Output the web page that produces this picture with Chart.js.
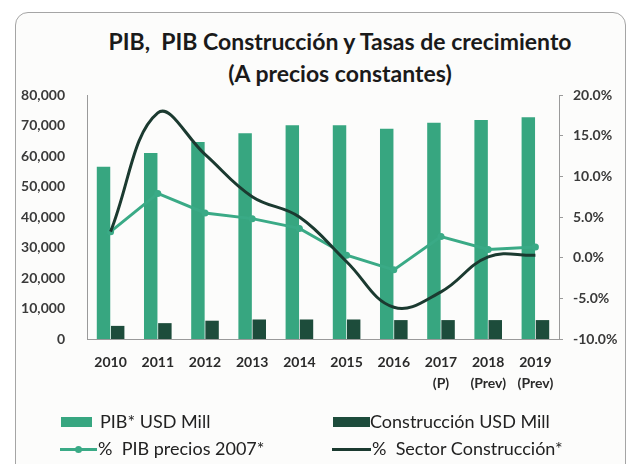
<!DOCTYPE html>
<html>
<head>
<meta charset="utf-8">
<script src="https://cdn.jsdelivr.net/npm/chart.js@4.4.1/dist/chart.umd.min.js"></script>
<style>
  html, body { margin: 0; padding: 0; background: #fff; }
  body { width: 630px; height: 464px; position: relative; overflow: hidden; font-family: Lato, "Open Sans", sans-serif; }
  #card {
    position: absolute; left: 15px; top: 12px; width: 611px; height: 470px;
    border: 1.5px solid #a5a5a5; border-radius: 13px; background: #fcfcfb; box-sizing: border-box;
  }
  #titulo {
    position: absolute; left: 40px; width: 600px; top: 25px; text-align: center;
    font-weight: bold; font-size: 23px; line-height: 32px; color: #1a1a1a; white-space: pre;
  }
  #chartBox { position: absolute; left: 0; top: 0; width: 630px; height: 464px; }
  .leyenda { position: absolute; font-size: 18px; color: #222; white-space: pre; line-height: 22px; }
  .sw { position: absolute; }
</style>
</head>
<body>
<div id="card"></div>
<div id="titulo">PIB,  PIB Construcción y Tasas de crecimiento
(A precios constantes)</div>
<div id="chartBox"><canvas id="myChart" width="630" height="464"></canvas></div>
<div id="legendBox"></div>

<script>
// Datos
const anios = ["2010", "2011", "2012", "2013", "2014", "2015", "2016", "2017", "2018", "2019"];
const subEtiquetas = ["", "", "", "", "", "", "", "(P)", "(Prev)", "(Prev)"];
const pibUsd = [56500, 61000, 64600, 67500, 70100, 70100, 68900, 70900, 71800, 72700];
const construccionUsd = [4300, 5200, 6000, 6400, 6400, 6400, 6200, 6200, 6200, 6200];
const pibPct = [3.2, 7.9, 5.5, 4.8, 3.6, 0.3, -1.5, 2.6, 1.0, 1.3];
const sectorPct = [3.2, 17.8, 12.7, 7.5, 5.0, -0.5, -6.1, -4.2, 0.1, 0.3];

const colorPib = "#37a680";
const colorConst = "#1d4c3b";
const colorLineaPib = "#3aaa86";
const colorLineaConst = "#1b3a30";

const labels = anios.map((a, i) => [a, subEtiquetas[i]]);

const data = {
  labels: labels,
  datasets: [
    {
      type: "line",
      label: "%  PIB precios 2007*",
      data: pibPct,
      yAxisID: "y1",
      borderColor: colorLineaPib,
      backgroundColor: colorLineaPib,
      borderWidth: 3,
      pointRadius: 3.5,
      pointBackgroundColor: colorLineaPib,
      pointBorderWidth: 0,
      tension: 0,
      order: 1,
    },
    {
      type: "line",
      label: "%  Sector Construcción*",
      data: sectorPct,
      yAxisID: "y1",
      borderColor: colorLineaConst,
      backgroundColor: colorLineaConst,
      borderWidth: 3,
      pointRadius: 0,
      tension: 0.4,
      order: 0,
    },
    {
      type: "bar",
      label: "PIB* USD Mill",
      data: pibUsd,
      yAxisID: "y",
      backgroundColor: colorPib,
      categoryPercentage: 0.6,
      barPercentage: 0.95,
      order: 2,
    },
    {
      type: "bar",
      label: "Construcción USD Mill",
      data: construccionUsd,
      yAxisID: "y",
      backgroundColor: colorConst,
      categoryPercentage: 0.6,
      barPercentage: 0.95,
      order: 2,
    },
  ],
};

const fuenteTicks = { family: "Lato", size: 14, weight: "bold" };

const config = {
  type: "bar",
  data: data,
  options: {
    responsive: false,
    animation: false,
    layout: { padding: { left: 18, right: 5, top: 95, bottom: 65 } },
    plugins: {
      legend: { display: false },
      title: { display: false },
      tooltip: { enabled: false },
    },
    scales: {
      x: {
        grid: { display: false, drawTicks: false },
        border: { display: true, color: "#9a9a9a", width: 1 },
        ticks: {
          color: "#2a2a2a",
          font: { family: "Lato", size: 14, weight: "bold", lineHeight: 1.57 },
          padding: 12,
          maxRotation: 0,
          autoSkip: false,
        },
        afterFit: (scale) => { scale.height = 60; },
      },
      y: {
        position: "left",
        min: 0,
        max: 80000,
        grid: { display: false, drawTicks: false },
        border: { display: true, color: "#9a9a9a", width: 1 },
        ticks: {
          stepSize: 10000,
          color: "#3a3a3a",
          font: fuenteTicks,
          padding: 22,
          callback: (v) => v.toLocaleString("en-US"),
        },
        afterFit: (scale) => { scale.width = 69; },
      },
      y1: {
        position: "right",
        min: -10,
        max: 20,
        grid: { display: true, drawOnChartArea: false, drawTicks: true, tickLength: 4, color: "#9a9a9a" },
        border: { display: true, color: "#9a9a9a", width: 1 },
        ticks: {
          stepSize: 5,
          color: "#3a3a3a",
          font: fuenteTicks,
          padding: 10,
          callback: (v) => v.toFixed(1) + "%",
        },
        afterFit: (scale) => { scale.width = 66; },
      },
    },
  },
};

const ctx = document.getElementById("myChart").getContext("2d");
const chart = new Chart(ctx, config);

// Leyenda en dos columnas, construida desde los datasets
const posLeyenda = {
  "PIB* USD Mill": { x: 61, y: 422, w: 31, tx: 100, kind: "box" },
  "Construcción USD Mill": { x: 333, y: 422, w: 37, tx: 370, kind: "box" },
  "%  PIB precios 2007*": { x: 60, y: 449, w: 37, tx: 98, kind: "linePoint" },
  "%  Sector Construcción*": { x: 332, y: 449, w: 39, tx: 372, kind: "line" },
};
const legendBox = document.getElementById("legendBox");
chart.data.datasets.forEach((ds) => {
  const p = posLeyenda[ds.label];
  const sw = document.createElement("div");
  sw.className = "sw";
  if (p.kind === "box") {
    sw.style.cssText = `left:${p.x}px;top:${p.y - 5}px;width:${p.w}px;height:10px;background:${ds.backgroundColor};`;
  } else {
    sw.style.cssText = `left:${p.x}px;top:${p.y - 1.5}px;width:${p.w}px;height:3px;background:${ds.borderColor};`;
  }
  legendBox.appendChild(sw);
  if (p.kind === "linePoint") {
    const dot = document.createElement("div");
    dot.className = "sw";
    dot.style.cssText = `left:${p.x + p.w / 2 - 3.5}px;top:${p.y - 3.5}px;width:7px;height:7px;border-radius:50%;background:${ds.borderColor};`;
    legendBox.appendChild(dot);
  }
  const t = document.createElement("div");
  t.className = "leyenda";
  t.textContent = ds.label;
  t.style.left = p.tx + "px";
  t.style.top = p.y - 12 + "px";
  legendBox.appendChild(t);
});
</script>
</body>
</html>
